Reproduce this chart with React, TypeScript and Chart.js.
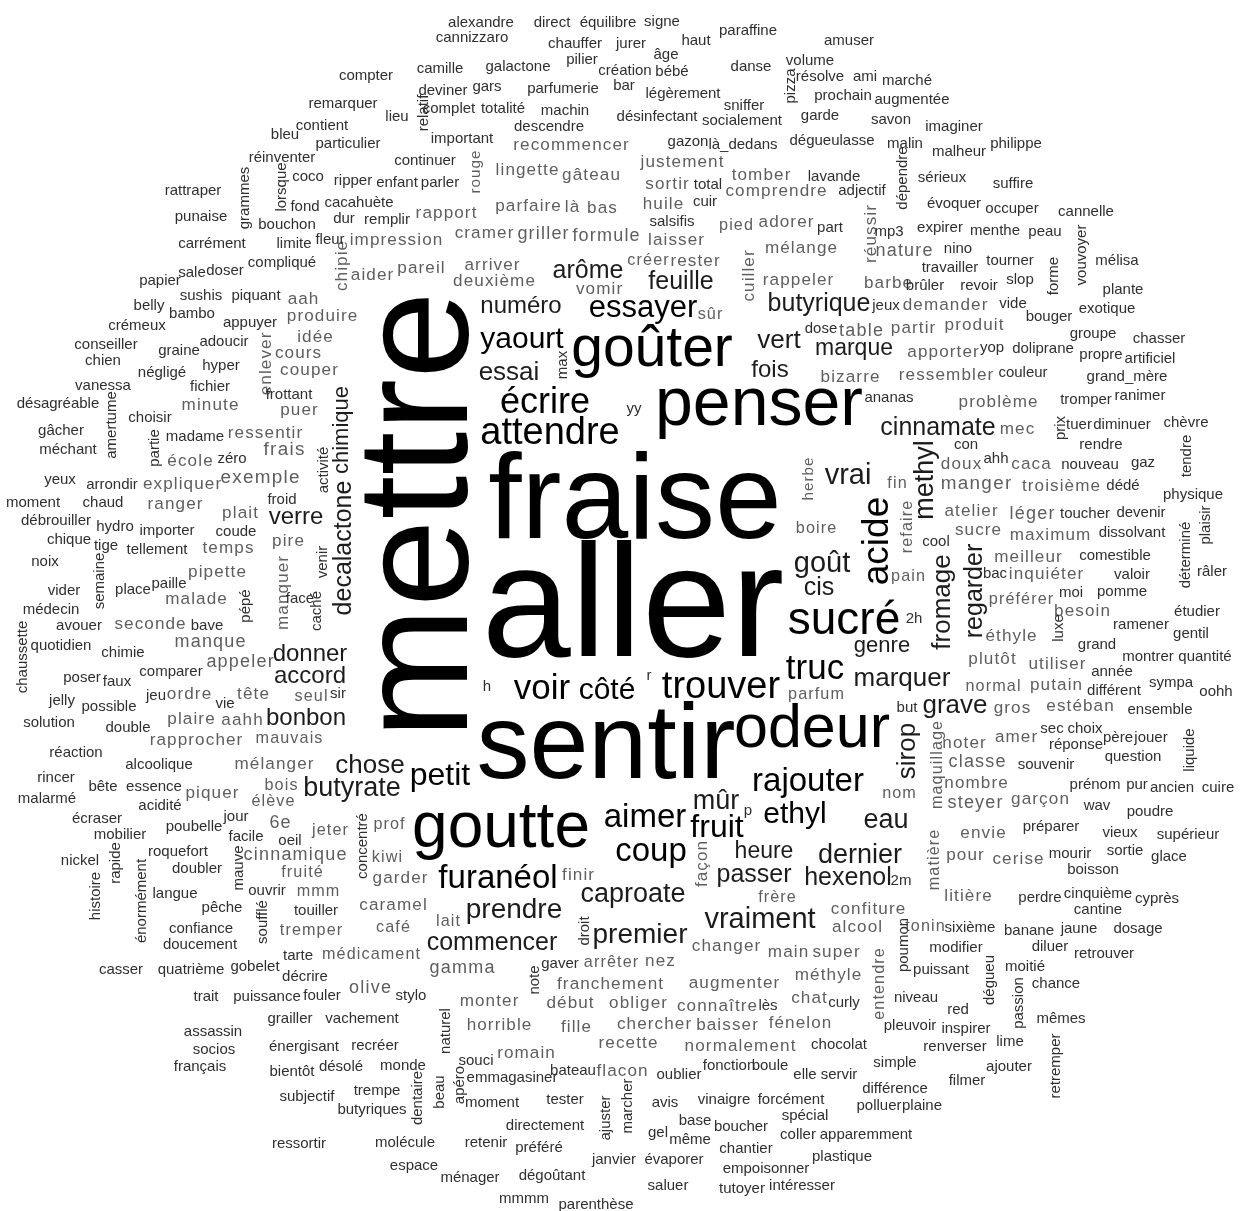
import { useEffect, useRef } from "react";
import { Chart, registerables } from "chart.js";

Chart.register(...registerables);

// [text, weight (font px), x, y] in the cloud's own coordinate space
type Word = [string, number, number, number];
// [text, x, y] for the smallest frequency tier
type Tiny = [string, number, number];

const X_MAX = 1247;
const Y_MAX = 1211;
const SMALL_WEIGHT = 15;

const bigWords: Word[] = [
  ["aller", 160, 633, 612], ["fraise", 120, 635, 505], ["sentir", 106, 606, 749],
  ["penser", 68, 759, 406], ["goutte", 64, 501, 829], ["odeur", 61, 812, 730],
  ["goûter", 57, 652, 350], ["sucré", 46, 844, 621], ["attendre", 38, 550, 434],
  ["trouver", 38, 721, 688], ["écrire", 36, 545, 403], ["voir", 35, 542, 689],
  ["truc", 35, 815, 669], ["furanéol", 33, 498, 879], ["rajouter", 33, 808, 782],
  ["aimer", 33, 645, 818], ["coup", 33, 651, 852], ["petit", 32, 440, 776],
  ["fruit", 32, 717, 828], ["essayer", 31, 643, 308], ["yaourt", 30, 522, 340],
  ["côté", 30, 607, 691], ["ethyl", 30, 795, 815], ["vrai", 29, 848, 476],
  ["goût", 29, 822, 564], ["vraiment", 29, 760, 920], ["prendre", 28, 514, 910],
  ["premier", 28, 640, 935], ["mûr", 27, 716, 802], ["dernier", 27, 860, 856],
  ["eau", 27, 886, 821], ["caproate", 27, 633, 895], ["butyrate", 27, 352, 789],
  ["chose", 26, 370, 766], ["vert", 26, 779, 341], ["essai", 26, 509, 373],
  ["marquer", 26, 902, 679], ["grave", 26, 955, 706], ["butyrique", 25, 819, 304],
  ["cinnamate", 25, 938, 428], ["feuille", 25, 681, 282], ["arôme", 25, 588, 271],
  ["cis", 25, 819, 588], ["passer", 25, 754, 875], ["hexenol", 25, 848, 878],
  ["commencer", 25, 492, 943], ["numéro", 24, 521, 306], ["fois", 24, 770, 370],
  ["donner", 24, 310, 654], ["accord", 24, 310, 676], ["bonbon", 24, 306, 718],
  ["verre", 24, 296, 517], ["heure", 23, 764, 852], ["marque", 23, 854, 349],
  ["genre", 22, 882, 646],
];

const bigVertical: Word[] = [
  ["mettre", 158, 423, 515], ["acide", 37, 878, 541], ["methyl", 27, 926, 480],
  ["sirop", 26, 908, 751], ["fromage", 26, 943, 602], ["regarder", 25, 975, 591],
  ["decalactone", 25, 344, 548], ["chimique", 22, 342, 430],
];

const grayWords: Word[] = [
  ["recommencer", 19, 571, 145], ["justement", 19, 682, 162], ["lingette", 19, 527, 170],
  ["gâteau", 19, 591, 175], ["sortir", 19, 667, 184], ["tomber", 19, 761, 175],
  ["comprendre", 19, 776, 191], ["huile", 19, 663, 204], ["rapport", 19, 446, 213],
  ["parfaire", 19, 528, 206], ["là", 19, 572, 207], ["bas", 19, 602, 208],
  ["impression", 19, 396, 240], ["cramer", 19, 484, 233], ["griller", 20, 543, 234],
  ["formule", 20, 606, 236], ["laisser", 19, 676, 240], ["pied", 18, 736, 226],
  ["adorer", 19, 786, 222], ["mélange", 19, 801, 248], ["nature", 20, 904, 251],
  ["créer", 18, 648, 261], ["rester", 19, 695, 261], ["rappeler", 19, 798, 280],
  ["barbe", 19, 888, 283], ["aider", 19, 372, 275], ["pareil", 19, 421, 268],
  ["arriver", 19, 492, 265], ["deuxième", 19, 494, 281], ["vomir", 19, 599, 289],
  ["aah", 19, 303, 299], ["produire", 19, 322, 316], ["sûr", 18, 710, 315],
  ["demander", 19, 945, 305], ["table", 20, 861, 331], ["partir", 19, 913, 328],
  ["produit", 19, 974, 325], ["idée", 19, 315, 337], ["cours", 19, 298, 353],
  ["couper", 19, 309, 370], ["apporter", 19, 943, 352], ["bizarre", 19, 850, 377],
  ["ressembler", 19, 946, 375], ["minute", 19, 210, 405], ["puer", 19, 299, 410],
  ["problème", 19, 998, 402], ["ressentir", 19, 265, 433], ["mec", 19, 1017, 429],
  ["frais", 21, 284, 450], ["école", 19, 190, 461], ["doux", 19, 961, 464],
  ["caca", 19, 1031, 464], ["expliquer", 19, 182, 484], ["exemple", 21, 260, 478],
  ["manger", 21, 976, 484], ["troisième", 19, 1061, 486], ["fin", 18, 897, 484],
  ["ranger", 19, 175, 504], ["plait", 19, 240, 513], ["atelier", 19, 971, 511],
  ["léger", 20, 1032, 514], ["boire", 18, 816, 529], ["sucre", 19, 978, 530],
  ["maximum", 19, 1050, 535], ["temps", 19, 228, 548], ["pire", 19, 288, 541],
  ["meilleur", 19, 1028, 557], ["inquiéter", 19, 1046, 574], ["pipette", 19, 217, 572],
  ["pain", 18, 908, 577], ["malade", 19, 196, 599], ["préférer", 18, 1021, 600],
  ["besoin", 19, 1082, 611], ["seconde", 19, 150, 624], ["manque", 20, 210, 642],
  ["éthyle", 19, 1011, 636], ["appeler", 20, 240, 662], ["plutôt", 19, 992, 659],
  ["utiliser", 19, 1057, 664], ["normal", 18, 993, 687], ["putain", 19, 1056, 685],
  ["ordre", 19, 189, 694], ["tête", 19, 253, 694], ["parfum", 18, 816, 695],
  ["seul", 18, 311, 697], ["gros", 19, 1012, 708], ["estéban", 19, 1080, 706],
  ["plaire", 19, 191, 719], ["aahh", 19, 242, 720], ["rapprocher", 19, 196, 740],
  ["mauvais", 18, 289, 739], ["amer", 19, 1016, 737], ["noter", 19, 964, 743],
  ["classe", 20, 977, 762], ["mélanger", 19, 274, 764], ["nombre", 19, 976, 783],
  ["bois", 18, 281, 786], ["piquer", 19, 212, 793], ["nom", 18, 899, 794],
  ["garçon", 19, 1040, 799], ["steyer", 20, 975, 803], ["élève", 18, 273, 802],
  ["6e", 20, 280, 823], ["jeter", 18, 330, 831], ["prof", 18, 389, 825],
  ["envie", 19, 983, 833], ["cinnamique", 20, 295, 855], ["pour", 19, 965, 855],
  ["kiwi", 18, 387, 858], ["cerise", 19, 1018, 859], ["fruité", 18, 302, 873],
  ["finir", 19, 578, 875], ["garder", 19, 400, 878], ["mmm", 18, 318, 892],
  ["litière", 19, 968, 896], ["frère", 18, 777, 898], ["caramel", 19, 393, 905],
  ["confiture", 19, 868, 909], ["lait", 18, 448, 922], ["café", 18, 393, 928],
  ["alcool", 19, 857, 927], ["tremper", 18, 311, 931], ["tonin", 18, 925, 927],
  ["changer", 19, 726, 946], ["main", 19, 788, 952], ["super", 19, 836, 952],
  ["médicament", 18, 371, 955], ["arrêter", 18, 611, 963], ["nez", 19, 660, 961],
  ["gamma", 20, 462, 968], ["augmenter", 19, 734, 983], ["méthyle", 19, 828, 975],
  ["franchement", 19, 610, 984], ["olive", 20, 370, 988], ["monter", 19, 489, 1001],
  ["début", 19, 570, 1003], ["obliger", 19, 638, 1003], ["connaître", 19, 717, 1006],
  ["chat", 19, 809, 998], ["horrible", 19, 499, 1025], ["fille", 19, 576, 1027],
  ["chercher", 19, 654, 1024], ["baisser", 19, 727, 1025], ["fénelon", 19, 800, 1023],
  ["recette", 19, 628, 1043], ["normalement", 19, 740, 1046], ["romain", 19, 526, 1053],
  ["flacon", 19, 622, 1071],
];

const grayVertical: Word[] = [
  ["rouge", 17, 476, 172], ["réussir", 19, 871, 234], ["cuiller", 19, 749, 276],
  ["chipie", 19, 342, 266], ["enlever", 19, 266, 364], ["herbe", 17, 809, 479],
  ["refaire", 18, 908, 527], ["manquer", 19, 283, 593], ["maquillage", 18, 938, 765],
  ["matière", 18, 935, 860], ["façon", 19, 702, 864], ["entendre", 18, 880, 984],
];

const smallWords: Tiny[] = [
  ["alexandre", 481, 23], ["direct", 552, 23], ["équilibre", 608, 23], ["signe", 662, 22],
  ["paraffine", 748, 31], ["cannizzaro", 472, 38], ["chauffer", 575, 44], ["jurer", 631, 44],
  ["haut", 696, 41], ["amuser", 849, 41], ["âge", 666, 55], ["pilier", 582, 60],
  ["volume", 810, 61], ["compter", 366, 76], ["camille", 440, 69], ["galactone", 518, 67],
  ["création", 625, 71], ["bébé", 672, 72], ["danse", 751, 67], ["résolve", 820, 77],
  ["ami", 865, 77], ["marché", 907, 81], ["deviner", 443, 91], ["gars", 487, 87],
  ["parfumerie", 563, 89], ["bar", 624, 86], ["légèrement", 683, 94], ["prochain", 843, 96],
  ["augmentée", 912, 100], ["remarquer", 343, 104], ["complet", 449, 109], ["totalité", 503, 109],
  ["machin", 565, 111], ["sniffer", 744, 106], ["lieu", 397, 117], ["désinfectant", 657, 117],
  ["socialement", 742, 121], ["garde", 820, 116], ["savon", 891, 120], ["imaginer", 954, 127],
  ["contient", 322, 126], ["descendre", 549, 127], ["bleu", 285, 135], ["important", 462, 139],
  ["gazon", 688, 142], ["là_dedans", 743, 145], ["dégueulasse", 832, 141], ["malin", 905, 144],
  ["particulier", 348, 144], ["philippe", 1016, 144], ["malheur", 959, 152], ["réinventer", 282, 158],
  ["continuer", 425, 161], ["coco", 308, 177], ["sérieux", 942, 178], ["ripper", 353, 181],
  ["enfant", 397, 183], ["parler", 440, 183], ["lavande", 834, 177], ["total", 708, 185],
  ["rattraper", 193, 191], ["adjectif", 862, 191], ["suffire", 1013, 184], ["cacahuète", 359, 203],
  ["fond", 305, 207], ["cuir", 705, 202], ["évoquer", 954, 204], ["occuper", 1012, 209],
  ["cannelle", 1086, 212], ["punaise", 201, 217], ["dur", 344, 219], ["remplir", 387, 220],
  ["salsifis", 672, 222], ["bouchon", 287, 225], ["part", 830, 228], ["mp3", 889, 232],
  ["expirer", 940, 228], ["menthe", 995, 231], ["peau", 1045, 232], ["fleur", 330, 240],
  ["carrément", 212, 244], ["limite", 294, 244], ["nino", 958, 249], ["tourner", 1010, 261],
  ["mélisa", 1117, 261], ["compliqué", 282, 263], ["travailler", 950, 268], ["sale", 192, 273],
  ["doser", 225, 271], ["papier", 160, 281], ["brûler", 925, 286], ["revoir", 979, 286],
  ["slop", 1020, 280], ["plante", 1123, 290], ["sushis", 201, 296], ["piquant", 256, 296],
  ["vide", 1013, 304], ["jeux", 886, 306], ["belly", 149, 306], ["exotique", 1107, 309],
  ["bambo", 192, 314], ["bouger", 1049, 317], ["appuyer", 250, 323], ["crémeux", 137, 326],
  ["dose", 821, 329], ["groupe", 1093, 334], ["chasser", 1159, 339], ["adoucir", 224, 342],
  ["conseiller", 106, 345], ["yop", 992, 348], ["doliprane", 1043, 349], ["graine", 179, 351],
  ["propre", 1101, 355], ["artificiel", 1150, 359], ["chien", 103, 361], ["hyper", 221, 366],
  ["négligé", 162, 373], ["couleur", 1023, 373], ["grand_mère", 1127, 377], ["vanessa", 103, 386],
  ["fichier", 210, 387], ["frottant", 289, 395], ["ananas", 889, 398], ["tromper", 1086, 400],
  ["ranimer", 1140, 396], ["désagréable", 58, 404], ["yy", 634, 409], ["choisir", 150, 418],
  ["chèvre", 1186, 423], ["tuer", 1079, 425], ["diminuer", 1122, 425], ["gâcher", 61, 431],
  ["madame", 195, 437], ["con", 966, 445], ["rendre", 1101, 445], ["méchant", 68, 450],
  ["zéro", 232, 459], ["ahh", 996, 459], ["nouveau", 1090, 465], ["gaz", 1143, 463],
  ["yeux", 60, 480], ["arrondir", 112, 485], ["dédé", 1123, 486], ["physique", 1193, 495],
  ["froid", 282, 500], ["moment", 33, 503], ["chaud", 103, 503], ["toucher", 1085, 514],
  ["devenir", 1141, 513], ["débrouiller", 56, 521], ["hydro", 115, 527], ["importer", 167, 531],
  ["coude", 236, 532], ["dissolvant", 1132, 533], ["chique", 69, 540], ["cool", 936, 542],
  ["tige", 106, 546], ["tellement", 157, 550], ["comestible", 1115, 556], ["noix", 45, 562],
  ["bac", 995, 574], ["valoir", 1132, 575], ["râler", 1212, 572], ["paille", 169, 584],
  ["place", 133, 590], ["vider", 64, 591], ["pomme", 1122, 592], ["moi", 1071, 593],
  ["face", 300, 599], ["médecin", 51, 610], ["étudier", 1197, 612], ["2h", 914, 619],
  ["ramener", 1141, 625], ["avouer", 79, 626], ["bave", 207, 626], ["gentil", 1191, 634],
  ["quotidien", 61, 646], ["grand", 1097, 645], ["chimie", 123, 653], ["montrer", 1148, 657],
  ["quantité", 1205, 657], ["comparer", 171, 672], ["année", 1112, 672], ["r", 649, 676],
  ["poser", 82, 678], ["faux", 117, 682], ["sympa", 1171, 683], ["h", 487, 687],
  ["différent", 1114, 691], ["oohh", 1216, 692], ["sir", 338, 694], ["jeu", 156, 696],
  ["jelly", 62, 701], ["vie", 225, 704], ["possible", 109, 707], ["but", 907, 708],
  ["ensemble", 1160, 710], ["solution", 49, 723], ["double", 128, 728], ["sec", 1052, 729],
  ["choix", 1085, 729], ["père", 1118, 738], ["jouer", 1151, 738], ["réponse", 1076, 745],
  ["réaction", 76, 753], ["question", 1133, 757], ["souvenir", 1046, 765], ["alcoolique", 159, 765],
  ["rincer", 56, 778], ["prénom", 1095, 785], ["pur", 1137, 785], ["bête", 103, 787],
  ["essence", 154, 787], ["ancien", 1172, 788], ["cuire", 1218, 788], ["malarmé", 47, 799],
  ["wav", 1097, 806], ["acidité", 160, 806], ["poudre", 1150, 812], ["p", 748, 811],
  ["jour", 236, 817], ["écraser", 97, 819], ["préparer", 1051, 827], ["poubelle", 194, 827],
  ["vieux", 1120, 833], ["supérieur", 1188, 835], ["mobilier", 120, 835], ["facile", 246, 837],
  ["oeil", 290, 841], ["sortie", 1125, 851], ["roquefort", 178, 852], ["mourir", 1070, 854],
  ["glace", 1169, 857], ["nickel", 80, 861], ["doubler", 197, 869], ["boisson", 1093, 870],
  ["2m", 901, 881], ["ouvrir", 267, 891], ["langue", 175, 894], ["cinquième", 1098, 894],
  ["perdre", 1040, 898], ["cyprès", 1157, 899], ["pêche", 222, 908], ["cantine", 1098, 910],
  ["touiller", 316, 911], ["sixième", 970, 928], ["confiance", 201, 929], ["banane", 1029, 931],
  ["jaune", 1079, 929], ["dosage", 1138, 929], ["doucement", 200, 945], ["diluer", 1050, 947],
  ["modifier", 956, 948], ["retrouver", 1104, 954], ["tarte", 298, 956], ["gaver", 560, 964],
  ["moitié", 1025, 967], ["gobelet", 255, 967], ["casser", 121, 970], ["quatrième", 191, 970],
  ["puissant", 941, 970], ["décrire", 305, 977], ["chance", 1056, 984], ["stylo", 411, 996],
  ["puissance", 267, 997], ["fouler", 322, 996], ["trait", 206, 997], ["niveau", 916, 998],
  ["curly", 844, 1003], ["lès", 768, 1006], ["red", 958, 1010], ["grailler", 290, 1019],
  ["vachement", 362, 1019], ["mêmes", 1061, 1019], ["pleuvoir", 910, 1026], ["inspirer", 966, 1029],
  ["assassin", 213, 1032], ["lime", 1010, 1042], ["chocolat", 839, 1045], ["recréer", 375, 1046],
  ["énergisant", 304, 1047], ["renverser", 955, 1047], ["socios", 214, 1050], ["souci", 476, 1061],
  ["simple", 895, 1063], ["fonction", 729, 1066], ["boule", 770, 1066], ["monde", 403, 1066],
  ["désolé", 341, 1067], ["français", 200, 1067], ["ajouter", 1009, 1067], ["bateau", 573, 1071],
  ["bientôt", 292, 1072], ["oublier", 679, 1075], ["elle", 805, 1075], ["servir", 839, 1075],
  ["emmagasiner", 512, 1078], ["filmer", 967, 1081], ["différence", 895, 1089], ["trempe", 377, 1091],
  ["subjectif", 307, 1097], ["tester", 565, 1100], ["vinaigre", 724, 1100], ["forcément", 791, 1100],
  ["avis", 665, 1103], ["moment", 492, 1103], ["polluer", 879, 1106], ["plaine", 922, 1106],
  ["butyriques", 372, 1110], ["spécial", 805, 1116], ["base", 695, 1121], ["directement", 545, 1126],
  ["boucher", 741, 1127], ["gel", 658, 1133], ["coller", 798, 1135], ["apparemment", 866, 1135],
  ["même", 690, 1140], ["molécule", 405, 1143], ["retenir", 486, 1143], ["ressortir", 299, 1144],
  ["préféré", 539, 1148], ["chantier", 746, 1149], ["plastique", 842, 1157], ["janvier", 614, 1160],
  ["évaporer", 674, 1160], ["espace", 414, 1166], ["empoisonner", 766, 1169], ["dégoûtant", 552, 1176],
  ["ménager", 470, 1178], ["saluer", 668, 1186], ["intéresser", 802, 1186], ["tutoyer", 742, 1189],
  ["mmmm", 524, 1199], ["parenthèse", 596, 1205],
];

const smallVertical: Tiny[] = [
  ["pizza", 791, 86], ["relatif", 424, 113], ["grammes", 245, 198], ["lorsque", 282, 187],
  ["dépendre", 903, 178], ["vouvoyer", 1082, 255], ["forme", 1054, 276], ["max", 563, 365],
  ["amertume", 112, 425], ["prix", 1061, 428], ["partie", 155, 448], ["tendre", 1187, 456],
  ["activité", 324, 470], ["plaisir", 1206, 525], ["déterminé", 1186, 555], ["venir", 323, 562],
  ["semaine", 100, 581], ["pépé", 246, 606], ["caché", 317, 611], ["luxe", 1059, 628],
  ["chaussette", 23, 657], ["liquide", 1190, 750], ["concentré", 363, 846], ["rapide", 116, 863],
  ["mauve", 239, 868], ["histoire", 96, 896], ["énormément", 142, 901], ["soufflé", 263, 922],
  ["droit", 585, 931], ["poumon", 904, 945], ["note", 535, 980], ["dégueu", 990, 980],
  ["passion", 1019, 1003], ["naturel", 446, 1031], ["retremper", 1056, 1066], ["beau", 440, 1092],
  ["apéro", 460, 1085], ["dentaire", 418, 1098], ["ajuster", 606, 1118], ["marcher", 628, 1106],
];

type Tone = "strong" | "gray" | "small";
interface Group { label: string; items: Word[]; vertical: boolean; tone: Tone; }

const withWeight = (list: Tiny[]): Word[] => list.map(([t, x, y]) => [t, SMALL_WEIGHT, x, y]);

const groups: Group[] = [
  { label: "big", items: bigWords, vertical: false, tone: "strong" },
  { label: "bigVertical", items: bigVertical, vertical: true, tone: "strong" },
  { label: "gray", items: grayWords, vertical: false, tone: "gray" },
  { label: "grayVertical", items: grayVertical, vertical: true, tone: "gray" },
  { label: "small", items: withWeight(smallWords), vertical: false, tone: "small" },
  { label: "smallVertical", items: withWeight(smallVertical), vertical: true, tone: "small" },
];

function colorFor(weight: number, tone: Tone): string {
  if (tone === "gray") return "#5e5e5e";
  if (tone === "small") return "#2f2f2f";
  return weight >= 30 ? "#000000" : "#1c1c1c";
}

const FONT = '"Liberation Sans", Arial, sans-serif';

const wordPlugin = {
  id: "wordcloudText",
  afterDatasetsDraw(chart: any) {
    const ctx: any = chart.ctx;
    groups.forEach((g, di) => {
      const meta = chart.getDatasetMeta(di);
      g.items.forEach((w, i) => {
        const el = meta.data[i];
        if (!el) return;
        const [text, weight] = w;
        ctx.save();
        ctx.translate(el.x, el.y);
        if (g.vertical) ctx.rotate(-Math.PI / 2);
        let px = weight;
        let spacing = 0;
        if (g.tone === "gray") {
          px = Math.round(weight * 0.9 * 10) / 10;
          spacing = Math.round(weight * 0.06 * 10) / 10;
        }
        ctx.font = `${px}px ${FONT}`;
        if ("letterSpacing" in ctx) ctx.letterSpacing = `${spacing}px`;
        ctx.fillStyle = colorFor(weight, g.tone);
        ctx.textAlign = "center";
        ctx.textBaseline = "middle";
        ctx.fillText(text, spacing / 2, 0);
        ctx.restore();
      });
    });
  },
};

export default function App() {
  const ref = useRef<HTMLCanvasElement | null>(null);
  useEffect(() => {
    if (!ref.current) return;
    const chart = new Chart(ref.current, {
      type: "scatter",
      data: {
        datasets: groups.map((g) => ({
          label: g.label,
          data: g.items.map((w) => ({ x: w[2], y: w[3] })),
          pointRadius: 0,
          pointHoverRadius: 0,
          showLine: false,
        })),
      },
      options: {
        animation: false,
        responsive: false,
        maintainAspectRatio: false,
        devicePixelRatio: 1,
        layout: { padding: 0 },
        events: [],
        plugins: { legend: { display: false }, tooltip: { enabled: false } },
        scales: {
          x: { type: "linear", min: 0, max: X_MAX, display: false },
          y: { type: "linear", min: 0, max: Y_MAX, reverse: true, display: false },
        },
      },
      plugins: [wordPlugin],
    });
    return () => chart.destroy();
  }, []);
  return (
    <div style={{ position: "absolute", left: 0, top: 0, width: X_MAX, height: Y_MAX, background: "#ffffff" }}>
      <canvas ref={ref} width={X_MAX} height={Y_MAX} style={{ display: "block" }} />
    </div>
  );
}
